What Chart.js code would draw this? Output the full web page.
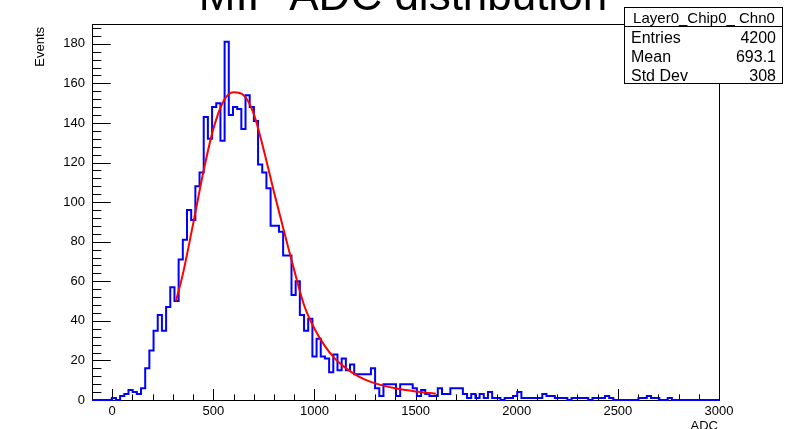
<!DOCTYPE html>
<html>
<head>
<meta charset="utf-8">
<script src="https://cdn.jsdelivr.net/npm/chart.js@4.4.1/dist/chart.umd.min.js"></script>
<style>
  html, body { margin: 0; padding: 0; background: #fff; }
</style>
</head>
<body>
<canvas id="chart" width="785" height="429"></canvas>
<script>
// histogram: 150 bins, left edge of bin k = binStart + k * binWidth
const binStart = -85;
const binWidth = 20.667;
const counts = [
  0, 0, 0, 0, 0, 1, 0, 2, 3, 5,
  4, 3, 6, 16, 25, 35, 43, 35, 47, 57,
  50, 71, 81, 96, 91, 108, 115, 143, 132, 148,
  150, 131, 181, 144, 148, 147, 137, 154, 148, 141,
  119, 115, 107, 88, 88, 85, 73, 73, 53, 60,
  43, 35, 41, 22, 31, 22, 21, 14, 23, 15,
  21, 15, 18, 13, 13, 13, 13, 16, 6, 2,
  8, 8, 8, 2, 8, 8, 8, 6, 2, 5,
  3, 2, 2, 6, 3, 3, 6, 6, 6, 3,
  1, 3, 1, 3, 1, 4, 1, 1, 0, 1,
  1, 2, 4, 1, 1, 1, 1, 1, 3, 2,
  2, 1, 1, 1, 0, 1, 1, 1, 1, 0,
  1, 1, 1, 2, 1, 0, 0, 0, 0, 0,
  0, 1, 1, 2, 1, 1, 0, 0, 1, 0,
  0, 0, 0, 0, 0, 0, 0, 0, 0, 0
];

// fit curve
const fitX = [315, 350, 400, 450, 500, 550, 600, 650, 700, 750, 800, 850, 900, 950,
  1000, 1050, 1100, 1150, 1200, 1250, 1300, 1350, 1400, 1450, 1500, 1550, 1600];
const fitY = [50, 64, 89, 115, 137, 151, 155.5, 154, 144.5, 126, 105, 85, 65.5, 47.5,
  36, 27.5, 21, 16.5, 13, 10.3, 8.4, 7, 5.9, 5, 4.3, 3.7, 3.2];

const xMin = -100, xMax = 3000;
const yMin = 0, yMax = 190;
const xTicks = [0, 500, 1000, 1500, 2000, 2500, 3000];
const yTicks = [0, 20, 40, 60, 80, 100, 120, 140, 160, 180];
const xMinorStep = 100;
const yMinorStep = 4;

const titleText = 'MIP ADC distribution';
const xTitle = 'ADC';
const yTitle = 'Events';
const statsTitle = 'Layer0_Chip0_ Chn0';
const statLabels = ['Entries', 'Mean', 'Std Dev'];
const statValues = ['4200', '693.1', '308'];

const FONT = '"Liberation Sans", Arial, Helvetica, sans-serif';

const histPoints = [{x: xMin, y: 0}];
counts.forEach((c, k) => histPoints.push({x: binStart + k * binWidth, y: c}));
histPoints.push({x: binStart + counts.length * binWidth, y: 0});

const fitPoints = fitX.map((x, i) => ({x: x, y: fitY[i]}));

const rootFrame = {
  id: 'rootFrame',
  beforeDatasetsDraw(chart) {
    const ctx = chart.ctx;
    const a = chart.chartArea;
    const xs = chart.scales.x, ys = chart.scales.y;
    ctx.save();
    ctx.strokeStyle = '#000';
    ctx.lineWidth = 1;
    ctx.strokeRect(Math.round(a.left) + 0.5, Math.round(a.top) + 0.5,
      Math.round(a.right - a.left), Math.round(a.bottom - a.top));
    ctx.beginPath();
    // x ticks
    for (let v = xMin; v <= xMax; v += xMinorStep) {
      const px = Math.round(xs.getPixelForValue(v)) + 0.5;
      const len = (v % 500 === 0) ? 11 : 5.6;
      ctx.moveTo(px, a.bottom);
      ctx.lineTo(px, a.bottom - len);
    }
    // y ticks
    for (let v = yMin; v <= yMax; v += yMinorStep) {
      const py = Math.round(ys.getPixelForValue(v)) + 0.5;
      const len = (v % 20 === 0) ? 18.8 : 9.4;
      ctx.moveTo(a.left, py);
      ctx.lineTo(a.left + len, py);
    }
    ctx.stroke();
    ctx.restore();
  },
  afterDraw(chart) {
    const ctx = chart.ctx;
    const a = chart.chartArea;
    ctx.save();
    ctx.fillStyle = '#000';

    // title
    ctx.font = '44px ' + FONT;
    ctx.textAlign = 'center';
    ctx.textBaseline = 'alphabetic';
    ctx.fillText(titleText, 403, 10);

    // axis titles
    ctx.font = '13px ' + FONT;
    ctx.textAlign = 'right';
    ctx.fillText(xTitle, a.right - 1, 430);
    ctx.save();
    ctx.translate(44, a.top + 3);
    ctx.rotate(-Math.PI / 2);
    ctx.textAlign = 'right';
    ctx.fillText(yTitle, 0, 0);
    ctx.restore();

    // stats box
    const bx = 624, by = 7, bw = 158, rowH = 19;
    ctx.fillStyle = '#fff';
    ctx.fillRect(bx, by, bw, rowH * 4);
    ctx.strokeStyle = '#000';
    ctx.lineWidth = 1;
    ctx.strokeRect(bx + 0.5, by + 0.5, bw, rowH * 4);
    ctx.beginPath();
    ctx.moveTo(bx, by + rowH + 0.5);
    ctx.lineTo(bx + bw, by + rowH + 0.5);
    ctx.stroke();
    ctx.fillStyle = '#000';
    ctx.font = '15px ' + FONT;
    ctx.textAlign = 'center';
    ctx.fillText(statsTitle, bx + bw / 2 + 1, by + rowH - 3.5);
    ctx.font = '16px ' + FONT;
    statLabels.forEach((lab, i) => {
      const yb = by + rowH * (i + 2) - 2.5;
      ctx.textAlign = 'left';
      ctx.fillText(lab, bx + 7, yb);
      ctx.textAlign = 'right';
      ctx.fillText(statValues[i], bx + bw - 6, yb);
    });
    ctx.restore();
  }
};

new Chart(document.getElementById('chart'), {
  type: 'line',
  data: {
    datasets: [
      {
        data: fitPoints,
        borderColor: '#ff0000',
        borderWidth: 2,
        pointRadius: 0,
        cubicInterpolationMode: 'monotone',
        fill: false,
        order: 0
      },
      {
        data: histPoints,
        borderColor: '#0000ff',
        borderWidth: 2,
        pointRadius: 0,
        stepped: 'after',
        fill: false,
        clip: {left: 0, top: 0, right: 0, bottom: 1},
        order: 1
      }
    ]
  },
  options: {
    responsive: false,
    animation: false,
    devicePixelRatio: 1,
    layout: { padding: { left: 0, top: 24, right: 66, bottom: 0 } },
    plugins: {
      legend: { display: false },
      tooltip: { enabled: false },
      title: { display: false }
    },
    scales: {
      x: {
        type: 'linear',
        min: xMin,
        max: xMax,
        afterBuildTicks: s => { s.ticks = xTicks.map(v => ({value: v})); },
        afterFit: s => { s.height = 29; },
        grid: { display: false, drawTicks: false },
        border: { display: false },
        ticks: {
          color: '#000',
          font: { family: FONT, size: 13 },
          padding: 4,
          maxRotation: 0,
          autoSkip: false,
          callback: v => String(v)
        }
      },
      y: {
        type: 'linear',
        min: yMin,
        max: yMax,
        afterBuildTicks: s => { s.ticks = yTicks.map(v => ({value: v})); },
        afterFit: s => { s.width = 92; },
        grid: { display: false, drawTicks: false },
        border: { display: false },
        ticks: {
          color: '#000',
          font: { family: FONT, size: 13 },
          padding: 7,
          autoSkip: false,
          callback: v => String(v)
        }
      }
    }
  },
  plugins: [rootFrame]
});
</script>
</body>
</html>
